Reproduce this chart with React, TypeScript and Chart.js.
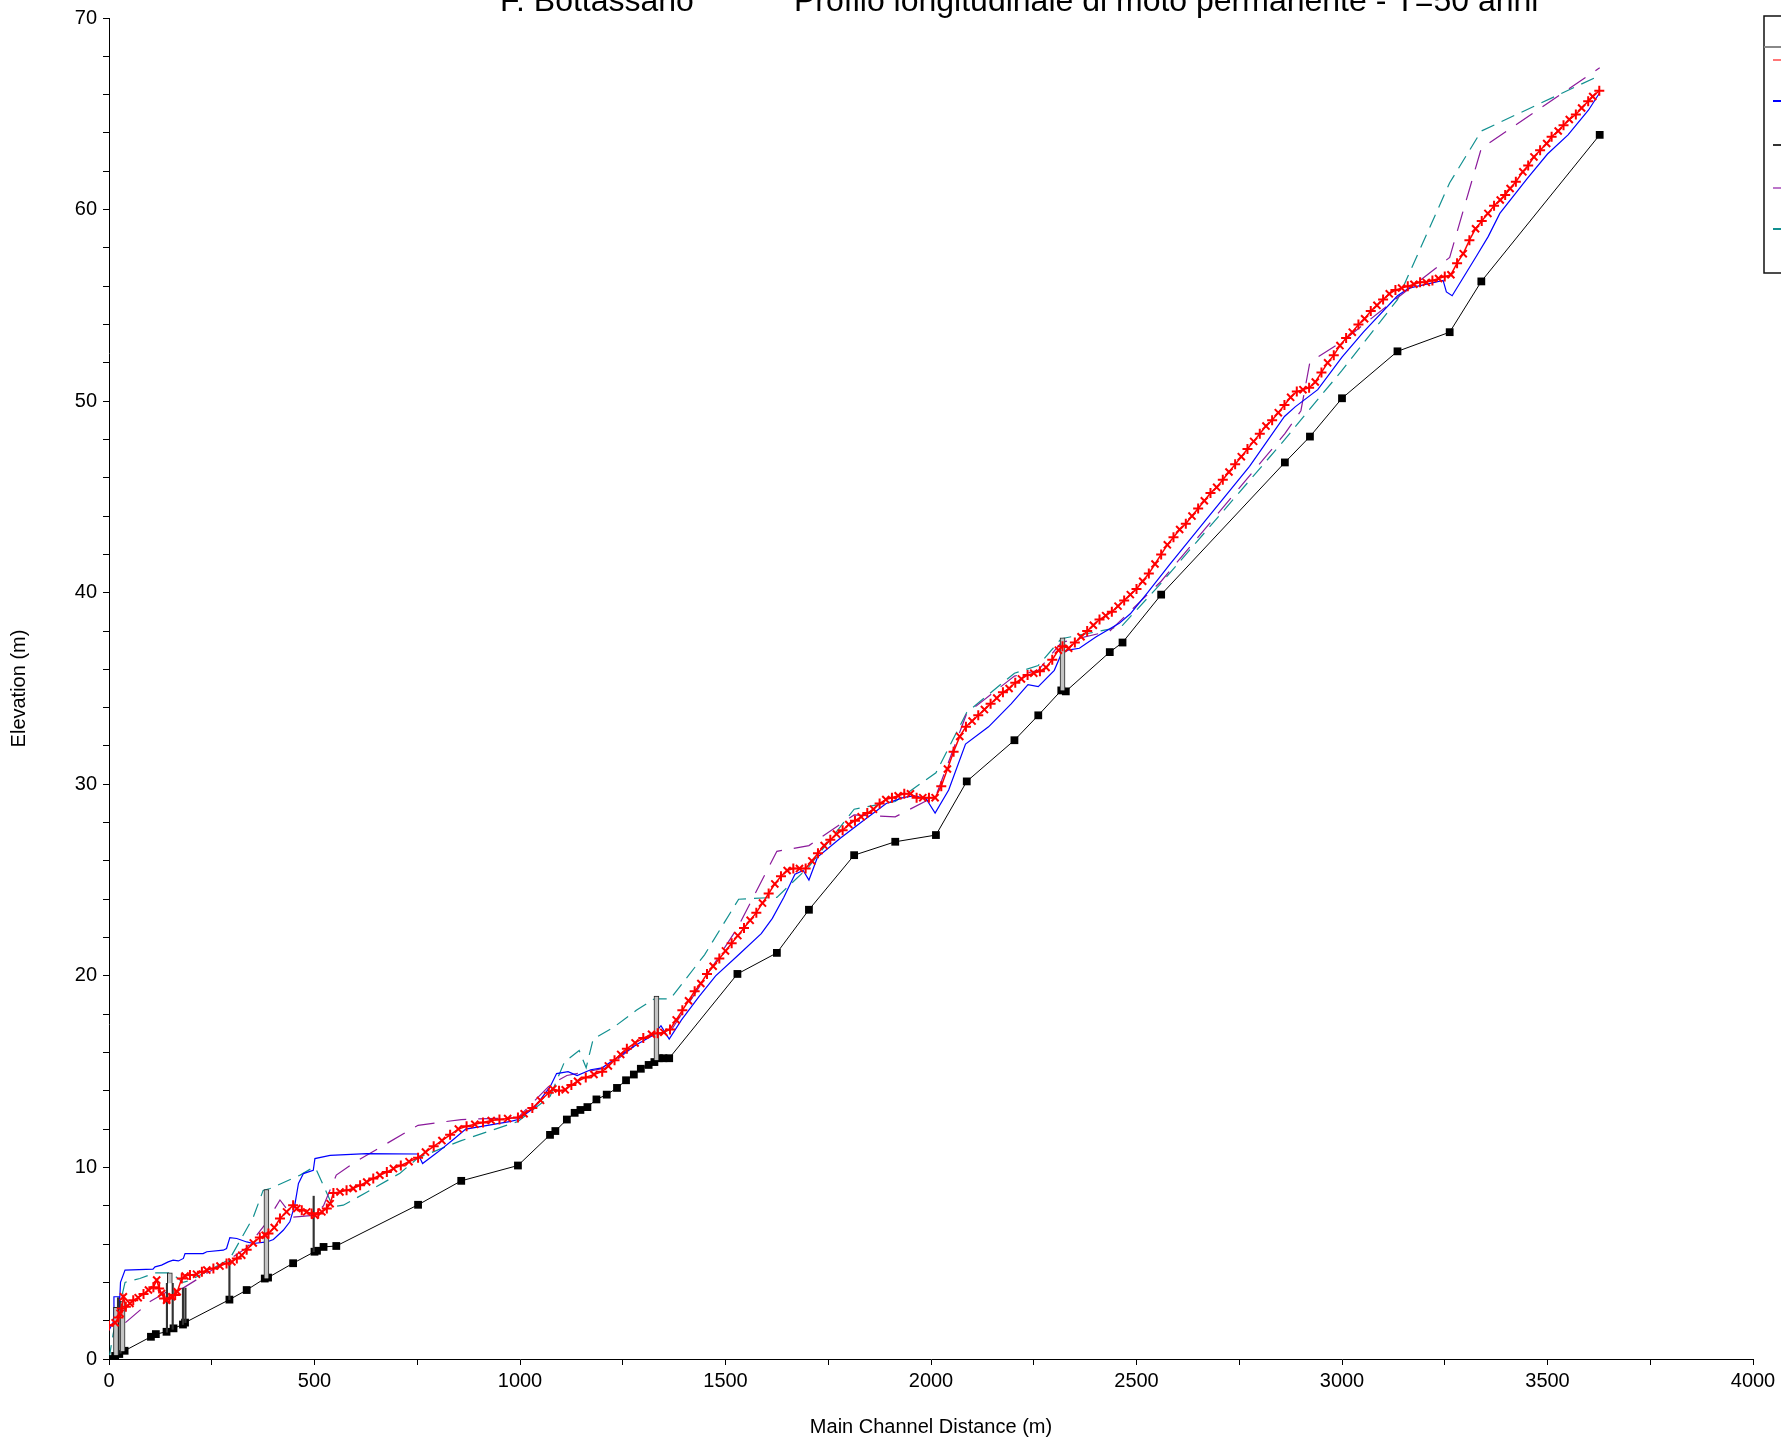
import { useEffect, useRef } from 'react';
import { Chart, registerables } from 'chart.js';

Chart.register(...registerables);

const W = 1781;
const H = 1442;
const FONT = '"Liberation Sans", Arial, Helvetica, sans-serif';

const TITLE_LEFT = 'F. Bottassano';
const TITLE_RIGHT = 'Profilo longitudinale di moto permanente - T=50 anni';
const X_TITLE = 'Main Channel Distance (m)';
const Y_TITLE = 'Elevation (m)';
const LEGEND_TITLE = 'Legend';
const LEGEND_LABELS = ['WS  T=50 anni', 'Crit  T=50 anni', 'Ground', 'LOB', 'ROB'];

// Water surface (red, + markers)
const wsProfile: [number, number][] = [
  [0, 1.75], [15, 1.89], [23, 2.17], [27, 2.38], [31, 2.64], [35, 3.25], [41, 2.73], [51, 2.9], [59, 3.07],
  [71, 3.2], [84, 3.39], [96, 3.6], [108, 3.74], [116, 4.12], [122, 3.68], [128, 3.42], [134, 3.16], [140, 3.07],
  [147, 3.16], [153, 3.25], [161, 3.34], [166, 3.51], [177, 4.2], [185, 4.33], [197, 4.38], [213, 4.43],
  [226, 4.55], [238, 4.64], [254, 4.73], [270, 4.85], [286, 4.99], [299, 5.07], [311, 5.25], [323, 5.42],
  [335, 5.7], [351, 6.06], [367, 6.34], [380, 6.46], [388, 6.55], [402, 6.86], [416, 7.33], [432, 7.68],
  [448, 8.03], [457, 7.85], [469, 7.77], [481, 7.68], [493, 7.59], [501, 7.5], [509, 7.59], [518, 7.68],
  [530, 7.85], [538, 8.11], [546, 8.67], [562, 8.72], [578, 8.81], [594, 8.9], [611, 9.07], [627, 9.24],
  [643, 9.42], [659, 9.59], [676, 9.76], [692, 9.94], [710, 10.1], [730, 10.3], [752, 10.5], [770, 10.8],
  [790, 11.1], [810, 11.4], [830, 11.7], [850, 12.0], [870, 12.15], [890, 12.25], [910, 12.35], [930, 12.45],
  [950, 12.5], [970, 12.55], [995, 12.6], [1010, 12.8], [1030, 13.1], [1050, 13.5], [1070, 13.9], [1080, 14.1],
  [1095, 14.0], [1110, 14.05], [1125, 14.3], [1140, 14.5], [1160, 14.7], [1180, 14.85], [1200, 15.0],
  [1215, 15.3], [1230, 15.6], [1245, 15.9], [1260, 16.2], [1280, 16.5], [1300, 16.75], [1320, 16.95],
  [1335, 17.0], [1350, 17.05], [1365, 17.2], [1380, 17.7], [1395, 18.2], [1410, 18.7], [1425, 19.2],
  [1440, 19.6], [1455, 20.1], [1470, 20.5], [1485, 20.9], [1500, 21.3], [1515, 21.7], [1530, 22.1],
  [1545, 22.5], [1560, 22.9], [1575, 23.3], [1590, 23.8], [1605, 24.3], [1620, 24.8], [1635, 25.2],
  [1650, 25.5], [1665, 25.6], [1680, 25.6], [1695, 25.6], [1710, 26.0], [1725, 26.4], [1740, 26.8],
  [1755, 27.1], [1770, 27.4], [1785, 27.6], [1800, 27.9], [1815, 28.1], [1830, 28.3], [1845, 28.5],
  [1860, 28.7], [1875, 29.0], [1890, 29.2], [1905, 29.3], [1920, 29.4], [1935, 29.5], [1950, 29.5],
  [1965, 29.3], [1980, 29.3], [1995, 29.3], [2010, 29.3], [2025, 29.9], [2040, 30.8], [2055, 31.7],
  [2070, 32.5], [2085, 33.0], [2100, 33.3], [2115, 33.6], [2130, 33.9], [2145, 34.2], [2160, 34.5],
  [2175, 34.8], [2190, 35.0], [2205, 35.3], [2220, 35.5], [2235, 35.7], [2250, 35.8], [2265, 35.9],
  [2280, 36.1], [2295, 36.5], [2310, 37.0], [2320, 37.2], [2335, 37.1], [2350, 37.4], [2365, 37.7],
  [2380, 38.0], [2395, 38.3], [2410, 38.6], [2425, 38.8], [2440, 39.0], [2455, 39.3], [2470, 39.6],
  [2485, 39.9], [2500, 40.2], [2515, 40.6], [2530, 41.0], [2545, 41.5], [2560, 42.0], [2575, 42.5],
  [2590, 42.9], [2605, 43.3], [2620, 43.6], [2635, 44.0], [2650, 44.4], [2665, 44.8], [2680, 45.2],
  [2695, 45.5], [2710, 45.9], [2725, 46.3], [2740, 46.7], [2755, 47.1], [2770, 47.5], [2785, 47.9],
  [2800, 48.3], [2815, 48.7], [2830, 49.0], [2845, 49.4], [2860, 49.8], [2875, 50.2], [2890, 50.5],
  [2905, 50.6], [2920, 50.7], [2935, 51.0], [2950, 51.5], [2965, 52.0], [2980, 52.4], [2995, 52.9],
  [3010, 53.3], [3025, 53.6], [3040, 54.0], [3055, 54.3], [3070, 54.7], [3085, 55.0], [3100, 55.3],
  [3115, 55.6], [3130, 55.8], [3145, 55.9], [3160, 56.0], [3175, 56.1], [3190, 56.2], [3205, 56.2],
  [3220, 56.3], [3235, 56.4], [3250, 56.5], [3265, 56.6], [3280, 57.2], [3295, 57.7], [3310, 58.4],
  [3325, 59.0], [3340, 59.4], [3355, 59.8], [3370, 60.2], [3385, 60.5], [3397, 60.76], [3409, 61.1],
  [3423, 61.45], [3440, 61.97], [3453, 62.3], [3467, 62.75], [3482, 63.1], [3498, 63.45], [3510, 63.8],
  [3526, 64.1], [3539, 64.4], [3553, 64.7], [3569, 64.96], [3583, 65.3], [3599, 65.65], [3610, 65.9],
  [3626, 66.2],
];

// Critical depth line (blue)
const critProfile: [number, number][] = [
  [0, 1.5], [12, 2.0], [12, 3.25], [25, 3.25], [25, 2.6], [28, 4.0], [39, 4.64], [107, 4.69], [112, 4.81],
  [128, 4.9], [144, 5.07], [156, 5.16], [169, 5.12], [181, 5.25], [185, 5.5], [229, 5.5], [238, 5.6],
  [278, 5.68], [286, 5.77], [294, 6.34], [311, 6.29], [335, 6.11], [351, 6.03], [384, 6.11], [400, 6.24],
  [424, 6.72], [440, 7.16], [452, 8.03], [461, 9.16], [473, 9.68], [497, 9.85], [501, 10.46], [538, 10.63],
  [627, 10.72], [752, 10.7], [763, 10.2], [800, 10.8], [840, 11.5], [868, 12.0], [978, 12.4], [995, 12.5],
  [1034, 13.1], [1073, 14.2], [1089, 14.9], [1117, 15.0], [1139, 14.8], [1172, 15.1], [1200, 15.2],
  [1241, 15.8], [1283, 16.4], [1324, 16.9], [1343, 17.4], [1363, 16.7], [1393, 17.7], [1435, 18.9],
  [1476, 20.0], [1532, 21.1], [1587, 22.2], [1614, 23.0], [1642, 24.1], [1669, 25.3], [1689, 25.5],
  [1703, 25.0], [1724, 26.2], [1780, 27.2], [1835, 28.1], [1891, 29.0], [1932, 29.3], [1960, 29.4],
  [1988, 29.25], [2010, 28.5], [2043, 29.7], [2084, 32.1], [2140, 33.0], [2195, 34.2], [2236, 35.2],
  [2261, 35.1], [2300, 35.95], [2317, 36.8], [2333, 37.0], [2361, 37.1], [2402, 37.7], [2458, 38.4],
  [2485, 38.9], [2527, 40.0], [2582, 41.5], [2665, 43.7], [2775, 46.6], [2860, 49.2], [2886, 49.7],
  [2941, 50.6], [3000, 52.3], [3052, 53.6], [3135, 55.5], [3163, 55.9], [3246, 56.3], [3254, 55.7],
  [3268, 55.5], [3328, 57.6], [3356, 58.6], [3384, 59.8], [3450, 61.6], [3500, 62.9], [3550, 63.9],
  [3600, 65.2], [3627, 66.1],
];

// Channel bed (black, square markers)
const groundProfile: [number, number][] = [
  [0, 0], [15, 0.16], [25, 0.26], [38, 0.43], [102, 1.16], [114, 1.3], [140, 1.42], [157, 1.6], [180, 1.8],
  [185, 1.9], [293, 3.1], [335, 3.6], [379, 4.2], [387, 4.25], [448, 5.0], [500, 5.6], [506, 5.65],
  [522, 5.85], [553, 5.9], [752, 8.05], [857, 9.3], [995, 10.1], [1073, 11.7], [1086, 11.9], [1114, 12.5],
  [1133, 12.85], [1147, 13.0], [1164, 13.15], [1186, 13.55], [1211, 13.8], [1236, 14.15], [1258, 14.55],
  [1277, 14.85], [1294, 15.15], [1313, 15.35], [1327, 15.5], [1338, 15.7], [1349, 15.7], [1363, 15.7],
  [1529, 20.1], [1625, 21.2], [1703, 23.45], [1813, 26.3], [1913, 27.0], [2012, 27.35], [2087, 30.15],
  [2203, 32.3], [2261, 33.6], [2317, 34.9], [2328, 34.85], [2435, 36.9], [2466, 37.4], [2560, 39.9],
  [2861, 46.8], [2922, 48.15], [3000, 50.15], [3135, 52.6], [3262, 53.6], [3339, 56.25], [3627, 63.9],
];

// Left bank (purple dashed)
const lobProfile: [number, number][] = [
  [40, 1.9], [100, 3.0], [140, 3.5], [180, 3.7], [293, 5.2], [335, 5.8], [379, 7.0], [416, 8.3], [448, 7.4],
  [500, 7.5], [522, 8.0], [553, 9.6], [600, 10.3], [752, 12.2], [857, 12.5], [995, 12.6], [1073, 14.3],
  [1114, 14.8], [1164, 15.0], [1211, 15.2], [1258, 16.0], [1313, 16.9], [1363, 17.0], [1529, 22.5],
  [1625, 26.5], [1703, 26.8], [1813, 28.4], [1913, 28.3], [2012, 29.4], [2087, 33.7], [2203, 35.65],
  [2261, 35.95], [2317, 37.4], [2435, 38.0], [2560, 40.6], [2861, 48.3], [2900, 49.5], [2922, 52.05],
  [3000, 53.1], [3135, 55.4], [3262, 57.5], [3339, 63.2], [3627, 67.4],
];

// Right bank (teal dashed)
const robProfile: [number, number][] = [
  [0, 0], [10, 1.3], [39, 4.0], [75, 4.2], [112, 4.5], [150, 4.5], [180, 4.0], [197, 4.1], [293, 5.2],
  [351, 7.4], [375, 8.8], [392, 8.9], [465, 9.6], [497, 10.0], [505, 9.85], [545, 7.94], [570, 8.03],
  [627, 8.7], [708, 9.7], [752, 10.5], [857, 11.4], [995, 12.4], [1073, 13.7], [1108, 15.5], [1144, 16.1],
  [1161, 15.2], [1178, 16.7], [1227, 17.3], [1283, 18.2], [1327, 18.8], [1366, 18.8], [1449, 21.1],
  [1532, 24.0], [1625, 24.1], [1703, 25.7], [1813, 28.7], [1913, 29.1], [2012, 30.6], [2087, 33.75],
  [2203, 35.8], [2261, 36.2], [2317, 37.6], [2435, 38.1], [2466, 38.3], [2560, 40.5], [2861, 48.0],
  [2922, 49.6], [3000, 51.6], [3135, 55.3], [3262, 61.4], [3339, 64.1], [3627, 67.0],
];

// Bridges / culverts: deck boxes and piers
const deckStations = [17, 33, 148, 383, 1332, 2320];
const deckLow = [0.2, 0.4, 3.95, 4.2, 15.6, 34.9];
const deckHigh = [2.7, 3.0, 4.5, 8.85, 18.95, 37.65];
const pierStations = [22, 28, 141, 155, 180, 186, 293, 498];
const pierLow = [0.25, 0.3, 1.4, 1.55, 1.8, 1.9, 3.1, 5.6];
const pierHigh = [3.2, 3.0, 3.95, 3.95, 3.7, 3.7, 5.2, 8.5];

const X_MIN = 0, X_MAX = 4000, X_STEP = 250, X_LABEL_STEP = 500;
const Y_MIN = 0, Y_MAX = 70, Y_STEP = 2, Y_LABEL_STEP = 10;

const COLORS = {
  ws: '#ff0000',
  crit: '#0000ff',
  ground: '#000000',
  lob: '#8b1a9b',
  rob: '#119090',
};

const pts = (a: [number, number][]) => a.map(([x, y]) => ({ x, y }));

export default function App() {
  const ref = useRef<HTMLCanvasElement>(null);

  useEffect(() => {
    const canvas = ref.current;
    if (!canvas) return;

    const overlay = {
      id: 'overlay',
      afterDraw(chart: any) {
        const ctx = chart.ctx as CanvasRenderingContext2D;
        const ca = chart.chartArea;
        ctx.save();
        ctx.fillStyle = '#000';
        ctx.textAlign = 'left';
        ctx.textBaseline = 'alphabetic';
        ctx.font = `32px ${FONT}`;
        ctx.fillText(TITLE_LEFT, 500, 11);
        ctx.fillText(TITLE_RIGHT, 794, 11);

        ctx.font = `20px ${FONT}`;
        ctx.textAlign = 'center';
        ctx.textBaseline = 'middle';
        ctx.fillText(X_TITLE, (ca.left + ca.right) / 2, 1427);
        ctx.save();
        ctx.translate(19, (ca.top + ca.bottom) / 2);
        ctx.rotate(-Math.PI / 2);
        ctx.fillText(Y_TITLE, 0, 0);
        ctx.restore();

        // legend box (extends beyond the right edge)
        const lx = 1764, ly = 16, lw = 220, lh = 257;
        ctx.fillStyle = '#fff';
        ctx.fillRect(lx, ly, lw, lh);
        ctx.strokeStyle = '#111';
        ctx.lineWidth = 1.5;
        ctx.strokeRect(lx, ly, lw, lh);
        ctx.strokeStyle = '#888';
        ctx.lineWidth = 2;
        ctx.beginPath();
        ctx.moveTo(lx, 47);
        ctx.lineTo(lx + lw, 47);
        ctx.stroke();
        ctx.fillStyle = '#000';
        ctx.font = `18px ${FONT}`;
        ctx.textAlign = 'center';
        ctx.fillText(LEGEND_TITLE, lx + lw / 2, 32);
        const entryY = [60, 101, 145, 188, 229];
        const entryC = ['rgba(255,60,60,0.7)', COLORS.crit, '#333', 'rgba(160,60,180,0.7)', COLORS.rob];
        ctx.textAlign = 'left';
        entryY.forEach((y, i) => {
          ctx.strokeStyle = entryC[i];
          ctx.lineWidth = 2;
          ctx.beginPath();
          ctx.moveTo(lx + 9, y);
          ctx.lineTo(lx + 45, y);
          ctx.stroke();
          ctx.fillStyle = '#000';
          ctx.fillText(LEGEND_LABELS[i], lx + 55, y);
        });
        ctx.restore();
      },
    };

    const chart = new Chart(canvas, {
      type: 'scatter',
      data: {
        datasets: [
          {
            label: LEGEND_LABELS[0],
            data: pts(wsProfile),
            showLine: true,
            borderColor: COLORS.ws,
            backgroundColor: COLORS.ws,
            borderWidth: 1.5,
            pointRadius: 5,
            pointBorderWidth: 2,
            pointStyle: (c: any) => (c.dataIndex % 2 ? 'crossRot' : 'cross'),
            pointBorderColor: COLORS.ws,
          } as any,
          {
            type: 'bar',
            label: 'deck',
            data: deckStations.map((x, i) => ({ x, y: [deckLow[i], deckHigh[i]] })),
            backgroundColor: '#c4c4c4',
            borderColor: '#222',
            borderWidth: 1,
            barThickness: 5,
            grouped: false,
          } as any,
          {
            type: 'bar',
            label: 'pier',
            data: pierStations.map((x, i) => ({ x, y: [pierLow[i], pierHigh[i]] })),
            backgroundColor: '#333',
            borderWidth: 0,
            barThickness: 1.5,
            grouped: false,
          } as any,
          {
            label: LEGEND_LABELS[2],
            data: pts(groundProfile),
            showLine: true,
            borderColor: COLORS.ground,
            backgroundColor: COLORS.ground,
            borderWidth: 1,
            pointStyle: 'rect',
            pointRadius: 5.5,
            pointBorderWidth: 0,
          },
          {
            label: LEGEND_LABELS[1],
            data: pts(critProfile),
            showLine: true,
            borderColor: COLORS.crit,
            borderWidth: 1.2,
            pointRadius: 0,
          },
          {
            label: LEGEND_LABELS[3],
            data: pts(lobProfile),
            showLine: true,
            borderColor: COLORS.lob,
            borderWidth: 1.2,
            borderDash: [20, 12],
            pointRadius: 0,
          },
          {
            label: LEGEND_LABELS[4],
            data: pts(robProfile),
            showLine: true,
            borderColor: COLORS.rob,
            borderWidth: 1.2,
            borderDash: [14, 8],
            pointRadius: 0,
          },
        ],
      },
      options: {
        animation: false,
        responsive: false,
        devicePixelRatio: 1,
        layout: { padding: { left: 0, top: 16, right: W - 1753, bottom: 0 } },
        plugins: { legend: { display: false }, tooltip: { enabled: false }, title: { display: false } },
        scales: {
          x: {
            type: 'linear',
            min: X_MIN,
            max: X_MAX,
            offset: false,
            afterFit: (s: any) => { s.height = H - 1359; },
            grid: { display: true, drawOnChartArea: false, drawTicks: true, tickLength: 6, color: '#000', offset: false },
            border: { display: true, color: '#000', width: 1 },
            ticks: {
              stepSize: X_STEP,
              autoSkip: false,
              maxRotation: 0,
              padding: 4,
              color: '#000',
              font: { family: FONT, size: 20 },
              callback: (v: any) => (Number(v) % X_LABEL_STEP === 0 ? String(v) : ''),
            },
          },
          y: {
            type: 'linear',
            min: Y_MIN,
            max: Y_MAX,
            afterFit: (s: any) => { s.width = 109; },
            grid: { display: true, drawOnChartArea: false, drawTicks: true, tickLength: 6, color: '#000' },
            border: { display: true, color: '#000', width: 1 },
            ticks: {
              stepSize: Y_STEP,
              autoSkip: false,
              padding: 6,
              color: '#000',
              font: { family: FONT, size: 20 },
              callback: (v: any) => (Number(v) % Y_LABEL_STEP === 0 ? String(v) : ''),
            },
          },
        },
      } as any,
      plugins: [overlay],
    });

    return () => chart.destroy();
  }, []);

  return (
    <div style={{ position: 'fixed', left: 0, top: 0, width: W, height: H, background: '#fff', overflow: 'hidden' }}>
      <canvas ref={ref} width={W} height={H} style={{ display: 'block', width: W, height: H }} />
    </div>
  );
}
